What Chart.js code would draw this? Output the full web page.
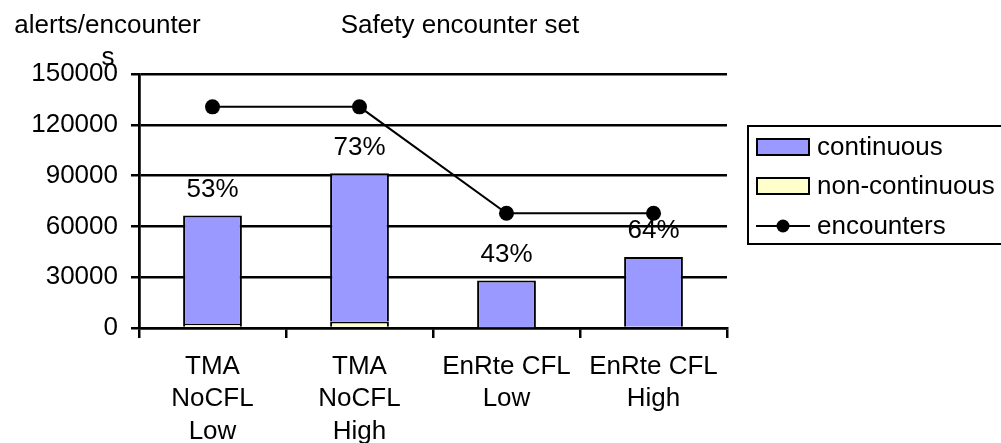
<!DOCTYPE html>
<html>
<head>
<meta charset="utf-8">
<script src="https://cdn.jsdelivr.net/npm/chart.js@4.4.0/dist/chart.umd.min.js"></script>
<style>
  html, body { margin: 0; padding: 0; background: #fff; }
  #wrap { width: 1001px; height: 443px; }
</style>
</head>
<body>
<div id="wrap"><canvas id="chart" width="1001" height="443"></canvas></div>
<script>
// data
var categories = [['TMA', 'NoCFL', 'Low'], ['TMA', 'NoCFL', 'High'], ['EnRte CFL', 'Low'], ['EnRte CFL', 'High']];
var continuous = [64100, 87600, 27700, 41200];
var nonContinuous = [2400, 3800, 300, 800];
var encounters = [130600, 130600, 67800, 67800];
var shareLabels = ['53%', '73%', '43%', '64%'];
var yTicks = [0, 30000, 60000, 90000, 120000, 150000];

var FONT = "'Liberation Sans', Arial, sans-serif";

// percentage labels above each bar + the two titles
var extrasPlugin = {
    id: 'extras',
    afterDraw: function (chart) {
        var ctx = chart.ctx;
        var x = chart.scales.x, y = chart.scales.y;
        ctx.save();
        ctx.fillStyle = '#000';
        ctx.font = '26px ' + FONT;
        ctx.textAlign = 'center';
        ctx.textBaseline = 'alphabetic';
        for (var i = 0; i < shareLabels.length; i++) {
            var total = continuous[i] + nonContinuous[i];
            ctx.fillText(shareLabels[i], x.getPixelForValue(i), y.getPixelForValue(total) - 18.5);
        }
        ctx.fillText('Safety encounter set', 460, 33);
        ctx.fillText('alerts/encounter', 107.5, 33);
        ctx.fillText('s', 108, 65);
        ctx.restore();
    }
};

// Excel-like legend box on the right (clipped by the canvas edge)
var legendPlugin = {
    id: 'boxLegend',
    afterDraw: function (chart) {
        var ctx = chart.ctx;
        var items = [chart.data.datasets[1], chart.data.datasets[0], chart.data.datasets[2]];
        ctx.save();
        ctx.lineWidth = 2;
        ctx.strokeStyle = '#000';
        ctx.strokeRect(748, 126, 300, 118);
        ctx.font = '26px ' + FONT;
        ctx.textBaseline = 'middle';
        ctx.textAlign = 'left';
        var rows = [147, 186, 226];
        items.forEach(function (ds, k) {
            var cy = rows[k];
            if (ds.type === 'line') {
                ctx.beginPath();
                ctx.moveTo(756, cy);
                ctx.lineTo(810, cy);
                ctx.stroke();
                ctx.beginPath();
                ctx.arc(783, cy, 6.5, 0, Math.PI * 2);
                ctx.fillStyle = '#000';
                ctx.fill();
            } else {
                ctx.fillStyle = ds.backgroundColor;
                ctx.fillRect(757, cy - 8, 52, 16);
                ctx.strokeRect(757, cy - 8, 52, 16);
            }
            ctx.fillStyle = '#000';
            ctx.fillText(ds.label, 817, cy + 1);
        });
        ctx.restore();
    }
};

var ctx = document.getElementById('chart').getContext('2d');
var chart = new Chart(ctx, {
    type: 'bar',
    data: {
        labels: categories,
        datasets: [
            {
                label: 'non-continuous',
                data: nonContinuous,
                backgroundColor: '#FFFFCC',
                borderColor: '#000',
                borderWidth: 2,
                stack: 'alerts',
                order: 1
            },
            {
                label: 'continuous',
                data: continuous,
                backgroundColor: '#9999FF',
                borderColor: '#000',
                borderWidth: 2,
                stack: 'alerts',
                order: 1
            },
            {
                type: 'line',
                label: 'encounters',
                data: encounters,
                borderColor: '#000',
                borderWidth: 2,
                pointRadius: 7.5,
                pointBackgroundColor: '#000',
                pointBorderWidth: 0,
                stack: 'enc',
                order: 0
            }
        ]
    },
    options: {
        responsive: false,
        animation: false,
        layout: { padding: { left: 0, top: 74, right: 274, bottom: 0 } },
        datasets: { bar: { barPercentage: 0.4, categoryPercentage: 1 } },
        plugins: {
            legend: { display: false },
            title: { display: false },
            tooltip: { enabled: false }
        },
        scales: {
            x: {
                stacked: true,
                afterFit: function (s) { s.height = 115; },
                grid: {
                    offset: true,
                    color: function (c) { return (c.index === 0 || c.index === categories.length) ? '#000' : 'rgba(0,0,0,0)'; },
                    tickColor: '#000',
                    lineWidth: 2.5,
                    tickLength: 10
                },
                border: { display: true, color: '#000', width: 2.5 },
                ticks: {
                    color: '#000',
                    font: { family: FONT, size: 26, lineHeight: 1.26 },
                    padding: 12,
                    maxRotation: 0,
                    autoSkip: false
                }
            },
            y: {
                stacked: true,
                min: 0,
                max: 150000,
                afterFit: function (s) { s.width = 139; },
                afterBuildTicks: function (s) { s.ticks = yTicks.map(function (v) { return { value: v }; }); },
                grid: { color: '#000', lineWidth: 2.5, tickLength: 8 },
                border: { display: true, color: '#000', width: 2.5 },
                ticks: {
                    color: '#000',
                    font: { family: FONT, size: 26 },
                    padding: 13,
                    callback: function (v) { return String(v); }
                }
            }
        }
    },
    plugins: [extrasPlugin, legendPlugin]
});
</script>
</body>
</html>
